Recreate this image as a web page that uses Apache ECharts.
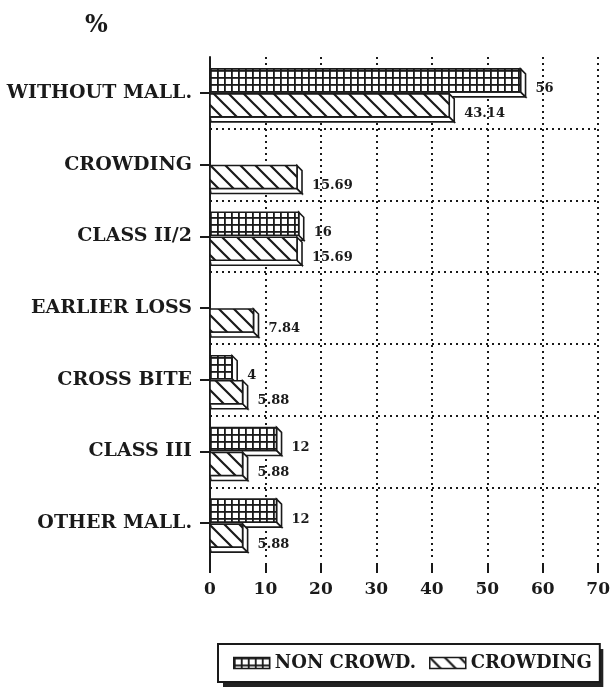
<!DOCTYPE html>
<html>
<head>
<meta charset="utf-8">
<script src="https://cdn.jsdelivr.net/npm/echarts@6/dist/echarts.min.js"></script>
<style>
  html, body { margin: 0; padding: 0; background: #fff; }
  #chart { width: 613px; height: 698px; }
</style>
</head>
<body>
<div id="chart"></div>
<script>
// Malocclusion categories, top to bottom
const categories = ['WITHOUT MALL.', 'CROWDING', 'CLASS II/2', 'EARLIER LOSS', 'CROSS BITE', 'CLASS III', 'OTHER MALL.'];
// Percentages per group (null = no bar)
const nonCrowd = [56, null, 16, null, 4, 12, 12];
const crowding = [43.14, 15.69, 15.69, 7.84, 5.88, 5.88, 5.88];
const seriesNames = ['NON CROWD.', 'CROWDING'];
// Value axis
const xMin = 0, xMax = 70, xStep = 10;

const FONT = '"DejaVu Serif", "Liberation Serif", serif';
const INK = '#1a1a1a';
const GRID = { left: 210, top: 57, right: 12, bottom: 139 };
const AXIS_DROP = 14;   // x axis sits a little below the last category band
const DEPTH = 5;        // extrusion depth of the bars
const BAR_H = 23;

// Fill patterns: square mesh and back-slash hatching
function meshPattern() {
  const c = document.createElement('canvas');
  c.width = 7; c.height = 7;
  const g = c.getContext('2d');
  g.fillStyle = '#fff'; g.fillRect(0, 0, 7, 7);
  g.fillStyle = INK;
  g.fillRect(0, 0, 7, 1.8);
  g.fillRect(0, 0, 1.8, 7);
  return { image: c, repeat: 'repeat' };
}
function hatchPattern() {
  const s = 15;
  const c = document.createElement('canvas');
  c.width = s; c.height = s;
  const g = c.getContext('2d');
  g.fillStyle = '#fff'; g.fillRect(0, 0, s, s);
  g.strokeStyle = INK; g.lineWidth = 2.2;
  g.beginPath();
  g.moveTo(-2, -2); g.lineTo(s + 2, s + 2);
  g.moveTo(-2, s - 2); g.lineTo(2, s + 2);
  g.moveTo(s - 2, -2); g.lineTo(s + 2, 2);
  g.stroke();
  return { image: c, repeat: 'repeat' };
}
const fills = [meshPattern(), hatchPattern()];

function toData(values) {
  const out = [];
  values.forEach((v, i) => { if (v != null) out.push([v, i]); });
  return out;
}

// Extruded bar: front face with pattern, right and bottom faces in white
function barRenderer(slot) {
  return function (params, api) {
    const v = api.value(0);
    const ci = api.value(1);
    const p0 = api.coord([0, ci]);
    const p1 = api.coord([v, ci]);
    const c = p0[1];
    const x0 = p0[0], x1 = p1[0];
    const y0 = slot === 0 ? c - BAR_H - 1 : c + 1;
    const y1 = y0 + BAR_H;
    const edge = { fill: '#fff', stroke: INK, lineWidth: 1.6 };
    return {
      type: 'group',
      children: [
        { type: 'polygon', shape: { points: [[x0, y1], [x1, y1], [x1 + DEPTH, y1 + DEPTH], [x0 + 1, y1 + DEPTH]] }, style: edge },
        { type: 'polygon', shape: { points: [[x1, y0], [x1 + DEPTH, y0 + DEPTH], [x1 + DEPTH, y1 + DEPTH], [x1, y1]] }, style: edge },
        { type: 'rect', shape: { x: x0, y: y0, width: x1 - x0, height: BAR_H }, style: { fill: fills[slot], stroke: INK, lineWidth: 1.6 } },
        { type: 'text', style: { text: String(v), x: x1 + 15, y: y0 + 20, fill: INK, font: 'bold 13px ' + FONT, align: 'left', verticalAlign: 'middle' } }
      ]
    };
  };
}

const chart = echarts.init(document.getElementById('chart'), null, { renderer: 'canvas' });

const dotted = { color: INK, width: 2, type: [2, 4] };

// Shared legend layout; the second copy is a solid block that forms the drop shadow
const legendBase = {
  top: 644,
  padding: [10, 8, 10, 15],
  itemGap: 13,
  itemWidth: 36, itemHeight: 11,
  selectedMode: false,
  textStyle: { fontFamily: FONT, fontWeight: 'bold', fontSize: 18, color: INK }
};

chart.setOption({
  backgroundColor: '#fff',
  animation: false,
  title: {
    text: '%', left: 80, top: 9,
    textStyle: { fontFamily: FONT, fontWeight: 'bold', fontSize: 24, color: INK }
  },
  grid: GRID,
  xAxis: {
    type: 'value', min: xMin, max: xMax, interval: xStep,
    offset: AXIS_DROP,
    axisLine: { show: false },
    axisTick: { show: true, inside: true, length: 10, lineStyle: { color: INK, width: 2 } },
    axisLabel: { margin: 8, fontFamily: FONT, fontWeight: 'bold', fontSize: 17, color: INK },
    splitLine: { show: true, showMinLine: false, lineStyle: dotted }
  },
  yAxis: {
    type: 'category', data: categories, inverse: true,
    axisLine: { show: true, lineStyle: { color: INK, width: 2 } },
    axisTick: { show: true, alignWithLabel: true, length: 10, lineStyle: { color: INK, width: 2 } },
    axisLabel: { margin: 18, fontFamily: FONT, fontWeight: 'bold', fontSize: 19, color: INK },
    splitLine: { show: true, showMinLine: false, showMaxLine: false, lineStyle: dotted }
  },
  legend: [
    Object.assign({}, legendBase, {
      left: 223, top: 649, z: 3,
      backgroundColor: '#222', borderWidth: 0,
      textStyle: Object.assign({}, legendBase.textStyle, { color: 'rgba(0,0,0,0)' }),
      data: seriesNames.map(n => ({ name: n, icon: 'rect', itemStyle: { color: 'rgba(0,0,0,0)', borderWidth: 0 } }))
    }),
    Object.assign({}, legendBase, {
      left: 218, z: 4,
      backgroundColor: '#fff', borderColor: INK, borderWidth: 2,
      data: seriesNames.map((n, i) => ({ name: n, icon: 'rect', itemStyle: { color: fills[i], borderColor: INK, borderWidth: 1.5 } }))
    })
  ],
  graphic: [{
    // continue the category axis line down to the dropped value axis
    type: 'line',
    shape: { x1: GRID.left, y1: 698 - GRID.bottom - 1, x2: GRID.left, y2: 698 - GRID.bottom + AXIS_DROP },
    style: { stroke: INK, lineWidth: 2 }
  }],
  series: [
    { name: seriesNames[0], type: 'custom', renderItem: barRenderer(0), encode: { x: 0, y: 1 },
      itemStyle: { color: fills[0], borderColor: INK, borderWidth: 1.5 }, data: toData(nonCrowd), z: 3 },
    { name: seriesNames[1], type: 'custom', renderItem: barRenderer(1), encode: { x: 0, y: 1 },
      itemStyle: { color: fills[1], borderColor: INK, borderWidth: 1.5 }, data: toData(crowding), z: 4 }
  ]
});
</script>
</body>
</html>
